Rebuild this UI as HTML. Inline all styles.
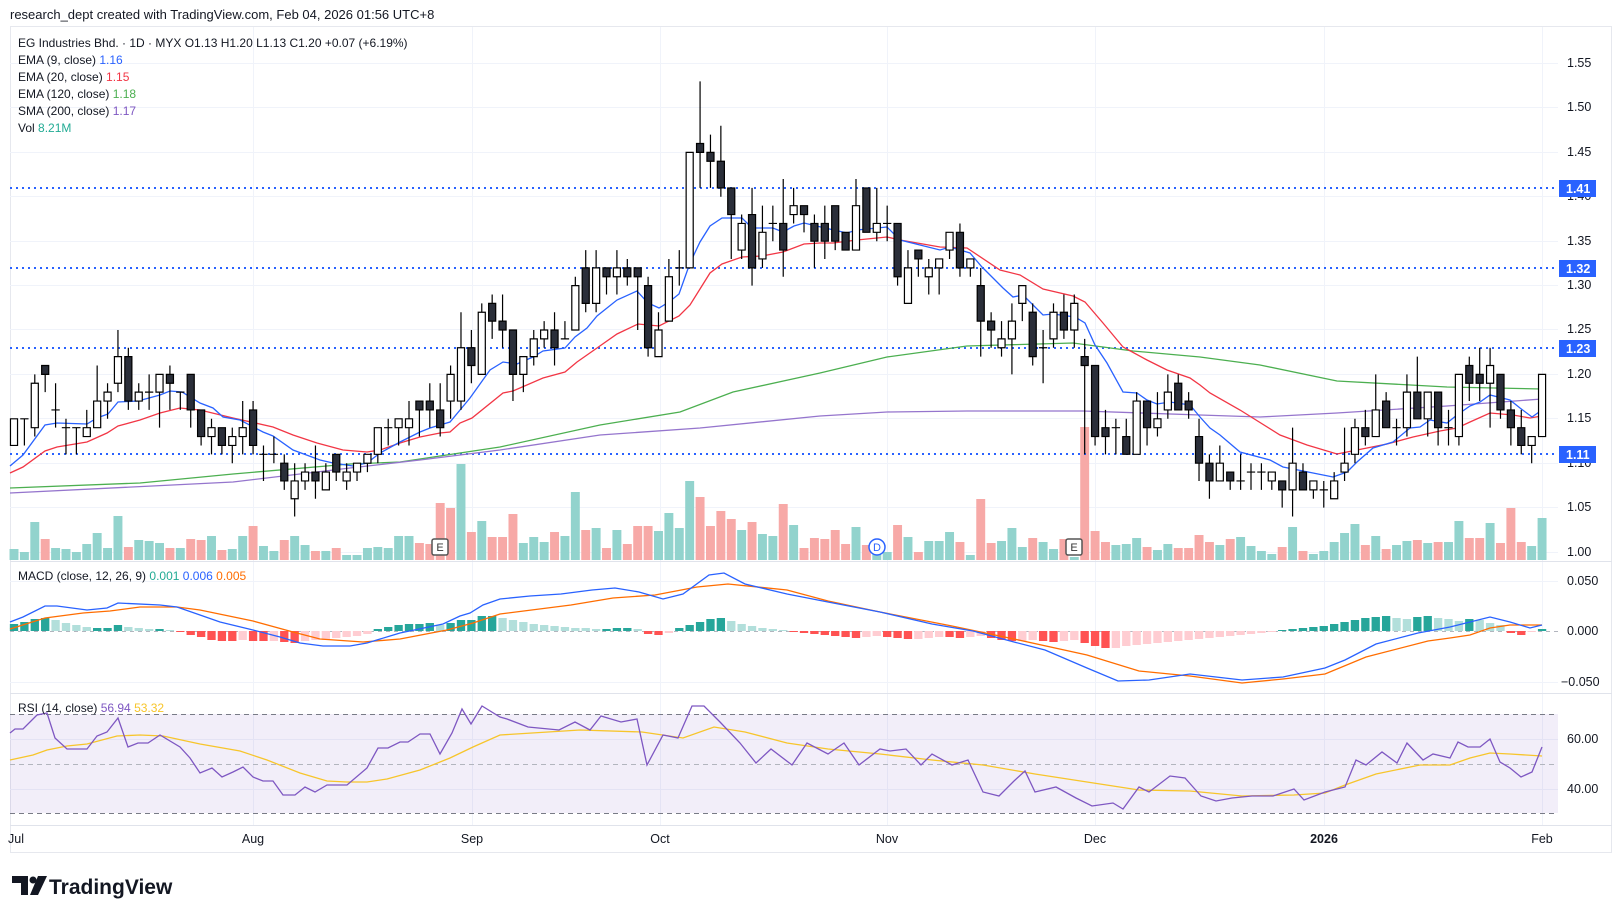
<!DOCTYPE html>
<html><head><meta charset="utf-8">
<style>
html,body{margin:0;padding:0;background:#fff;}
svg{display:block;font-family:"Liberation Sans",Arial,sans-serif;}
</style></head>
<body>
<svg width="1622" height="913" viewBox="0 0 1622 913" xmlns="http://www.w3.org/2000/svg">
<rect width="1622" height="913" fill="#fff"/>
<text x="10" y="19" font-size="13" fill="#131722">research_dept created with TradingView.com, Feb 04, 2026 01:56 UTC+8</text>
<rect x="10.5" y="26.5" width="1601" height="826" fill="none" stroke="#e6e8ee"/>
<g stroke="#f0f3fa">
<path d="M10 63.5H1558M10 107.5H1558M10 152.5H1558M10 196.5H1558M10 241.5H1558M10 285.5H1558M10 329.5H1558M10 374.5H1558M10 418.5H1558M10 463.5H1558M10 507.5H1558M10 552.5H1558M10 581.5H1558M10 682.5H1558M10 739.5H1558M10 789.5H1558"/>
<path d="M253.5 27V825M472.5 27V825M660.5 27V825M887.5 27V825M1095.5 27V825M1324.5 27V825M1542.5 27V825"/>
</g>
<path d="M10 561.5H1612M10 693.5H1612M10 825.5H1612" stroke="#e0e3eb"/>
<rect x="10" y="714" width="1548" height="99" fill="#7e57c2" fill-opacity="0.1"/>
<path d="M10 631.5H1558" stroke="#b2b5be" stroke-dasharray="4 4"/>
<path d="M10 714.5H1558M10 813.5H1558" stroke="#787b86" stroke-dasharray="5 4"/>
<path d="M10 764.5H1558" stroke="#b2b5be" stroke-dasharray="5 4"/>

<!-- volume -->
<g transform="translate(14,560) scale(10.395,-1)">
<path fill="#92d3cd" d="M-.43 0h.86v11h-.86zM.57 0h.86v8h-.86zM1.57 0h.86v38h-.86zM3.57 0h.86v12h-.86zM4.57 0h.86v11h-.86zM5.57 0h.86v8h-.86zM6.57 0h.86v16h-.86zM7.57 0h.86v27h-.86zM8.57 0h.86v12h-.86zM9.57 0h.86v44h-.86zM11.57 0h.86v20h-.86zM12.57 0h.86v19h-.86zM13.57 0h.86v17h-.86zM15.57 0h.86v12h-.86zM18.57 0h.86v24h-.86zM20.57 0h.86v11h-.86zM21.57 0h.86v24h-.86zM23.57 0h.86v14h-.86zM24.57 0h.86v9h-.86zM26.57 0h.86v24h-.86zM27.57 0h.86v15h-.86zM29.57 0h.86v9h-.86zM31.57 0h.86v5h-.86zM32.57 0h.86v5h-.86zM33.57 0h.86v12h-.86zM34.57 0h.86v13h-.86zM35.57 0h.86v12h-.86zM36.57 0h.86v24h-.86zM37.57 0h.86v24h-.86zM42.57 0h.86v96h-.86zM44.57 0h.86v39h-.86zM48.57 0h.86v17h-.86zM49.57 0h.86v23h-.86zM50.57 0h.86v18h-.86zM52.57 0h.86v24h-.86zM53.57 0h.86v68h-.86zM55.57 0h.86v32h-.86zM57.57 0h.86v30h-.86zM61.57 0h.86v29h-.86zM62.57 0h.86v47h-.86zM63.57 0h.86v32h-.86zM64.57 0h.86v79h-.86zM69.57 0h.86v30h-.86zM71.57 0h.86v26h-.86zM72.57 0h.86v24h-.86zM74.57 0h.86v35h-.86zM80.57 0h.86v33h-.86zM82.57 0h.86v10h-.86zM83.57 0h.86v8h-.86zM85.57 0h.86v23h-.86zM87.57 0h.86v19h-.86zM88.57 0h.86v19h-.86zM89.57 0h.86v28h-.86zM91.57 0h.86v5h-.86zM94.57 0h.86v19h-.86zM95.57 0h.86v32h-.86zM96.57 0h.86v13h-.86zM98.57 0h.86v18h-.86zM99.57 0h.86v11h-.86zM101.57 0h.86v3h-.86zM105.57 0h.86v15h-.86zM106.57 0h.86v16h-.86zM107.57 0h.86v22h-.86zM109.57 0h.86v10h-.86zM110.57 0h.86v16h-.86zM115.57 0h.86v15h-.86zM117.57 0h.86v23h-.86zM118.57 0h.86v14h-.86zM119.57 0h.86v9h-.86zM120.57 0h.86v6h-.86zM122.57 0h.86v33h-.86zM124.57 0h.86v6h-.86zM125.57 0h.86v9h-.86zM126.57 0h.86v18h-.86zM127.57 0h.86v27h-.86zM128.57 0h.86v36h-.86zM130.57 0h.86v24h-.86zM132.57 0h.86v15h-.86zM133.57 0h.86v19h-.86zM135.57 0h.86v17h-.86zM137.57 0h.86v18h-.86zM138.57 0h.86v39h-.86zM141.57 0h.86v37h-.86zM145.57 0h.86v14h-.86zM146.57 0h.86v42h-.86z"/>
<path fill="#f7a9a7" d="M2.57 0h.86v21h-.86zM10.57 0h.86v13h-.86zM14.57 0h.86v12h-.86zM16.57 0h.86v21h-.86zM17.57 0h.86v20h-.86zM19.57 0h.86v10h-.86zM22.57 0h.86v34h-.86zM25.57 0h.86v20h-.86zM28.57 0h.86v9h-.86zM30.57 0h.86v12h-.86zM38.57 0h.86v17h-.86zM39.57 0h.86v16h-.86zM40.57 0h.86v57h-.86zM41.57 0h.86v52h-.86zM43.57 0h.86v28h-.86zM45.57 0h.86v23h-.86zM46.57 0h.86v23h-.86zM47.57 0h.86v46h-.86zM51.57 0h.86v28h-.86zM54.57 0h.86v30h-.86zM56.57 0h.86v12h-.86zM58.57 0h.86v16h-.86zM59.57 0h.86v34h-.86zM60.57 0h.86v34h-.86zM65.57 0h.86v63h-.86zM66.57 0h.86v34h-.86zM67.57 0h.86v49h-.86zM68.57 0h.86v41h-.86zM70.57 0h.86v38h-.86zM73.57 0h.86v56h-.86zM75.57 0h.86v12h-.86zM76.57 0h.86v22h-.86zM77.57 0h.86v21h-.86zM78.57 0h.86v30h-.86zM79.57 0h.86v16h-.86zM81.57 0h.86v15h-.86zM84.57 0h.86v35h-.86zM86.57 0h.86v8h-.86zM90.57 0h.86v18h-.86zM92.57 0h.86v61h-.86zM93.57 0h.86v17h-.86zM97.57 0h.86v22h-.86zM100.57 0h.86v21h-.86zM102.57 0h.86v133h-.86zM103.57 0h.86v29h-.86zM104.57 0h.86v18h-.86zM108.57 0h.86v13h-.86zM111.57 0h.86v12h-.86zM112.57 0h.86v12h-.86zM113.57 0h.86v25h-.86zM114.57 0h.86v18h-.86zM116.57 0h.86v21h-.86zM121.57 0h.86v13h-.86zM123.57 0h.86v9h-.86zM129.57 0h.86v15h-.86zM131.57 0h.86v11h-.86zM134.57 0h.86v20h-.86zM136.57 0h.86v18h-.86zM139.57 0h.86v22h-.86zM140.57 0h.86v22h-.86zM142.57 0h.86v17h-.86zM143.57 0h.86v52h-.86zM144.57 0h.86v18h-.86z"/>
</g>

<!-- dotted levels -->
<path d="M10 188H1558M10 268H1558M10 348H1558M10 454H1558" stroke="#2962ff" stroke-width="2" stroke-dasharray="2 4"/>

<!-- long MAs -->
<g fill="none" stroke-width="1.3">
<polyline stroke="#4caf50" points="10,488 140,483 233,474 350,464 400,462 500,447 600,425 680,412 733,392 820,373 887,357 967,346 1073,343 1133,351 1200,357 1260,365 1337,381 1447,387 1542,389"/>
<polyline stroke="#9575cd" points="10,493 233,482 350,468 420,460 500,450 600,435 700,428 820,416 887,412 967,411 1083,411 1200,415 1260,417 1337,413 1447,406 1542,399"/>
<polyline stroke="#f23645" points="10,473 23,467 45,451 57,447 87,442 107,433 118,426 140,420 160,413 180,408 200,410 233,418 273,427 293,435 317,443 343,450 367,452 380,450 400,443 420,437 440,433 450,432 460,423 472,418 503,393 513,391 543,378 565,372 577,362 597,348 617,334 638,324 659,326 679,316 690,305 710,273 722,264 742,257 762,256 783,252 804,244 820,243 833,243 857,240 887,237 900,240 940,247 967,248 1000,270 1020,275 1043,289 1073,296 1085,302 1103,323 1123,347 1147,360 1167,370 1190,378 1200,385 1210,393 1240,410 1280,435 1307,445 1337,454 1367,448 1387,444 1413,437 1440,431 1457,428 1470,422 1490,413 1513,415 1530,418 1542,416"/>
<polyline stroke="#2962ff" points="10,466 23,455 45,425 57,423 87,424 97,418 108,414 118,402 138,401 160,395 170,391 182,392 200,403 213,408 223,417 240,420 263,432 273,436 293,450 320,460 333,463 353,466 367,463 380,453 400,442 420,432 430,428 450,422 470,398 490,370 503,362 517,364 533,357 543,351 565,348 575,337 587,328 597,316 617,300 637,291 648,303 659,308 669,302 679,294 690,263 700,242 710,226 722,218 742,218 752,228 773,228 783,232 794,226 804,223 825,228 847,233 857,230 877,228 887,227 900,240 920,245 940,250 950,247 970,253 982,267 1003,288 1013,297 1023,295 1043,315 1053,314 1075,317 1085,323 1095,345 1107,363 1123,392 1137,393 1147,400 1157,404 1170,402 1190,405 1200,417 1210,428 1220,435 1240,452 1270,460 1283,467 1313,473 1333,477 1347,472 1357,462 1373,448 1393,442 1410,428 1420,427 1430,420 1447,423 1457,415 1470,406 1480,402 1490,395 1510,400 1520,408 1532,417 1542,410"/>
</g>

<!-- candles -->
<g transform="translate(14,1440) scale(10.395,-8.88)" stroke="#000" stroke-width="1.2">
<path vector-effect="non-scaling-stroke" fill="none" d="M0 112V115M1 112V115M2 113V120M3 118V121M4 114V119M5 111V115M6 111V114M7 113V116M8 114V121M9 115V119M10 118V125M11 116V123M12 116V119M13 116V120M14 114V120M15 116V121M16 116V118M17 114V120M18 112V116M19 111V115M20 111V114M21 110V114M22 111V117M23 111V117M24 108V112M25 110V113M26 107V111M27 104V110M28 107V110M29 106V112M30 107V110M31 108V111M32 107V110M33 108V110M34 109V111M35 110V114M36 112V115M37 112V115M38 112V117M39 113V117M40 114V119M41 113V119M42 115V121M43 116V127M44 119V125M45 120V128M46 124V129M47 123V129M48 117V125M49 118V122M50 121V125M51 123V126M52 121V127M53 124V126M54 125V131M55 127V134M56 127V134M57 129V132M58 129V134M59 130V133M60 125V132M61 122V131M62 122V127M63 126V133M64 130V134M65 132V145M66 141V153M67 141V147M68 140V148M69 133V141M70 133V138M71 130V141M72 132V139M73 135V139M74 131V142M75 137V141M76 136V139M77 132V138M78 133V139M79 134V139M80 134V136M81 134V142M82 136V141M83 135V141M84 135V139M85 130V137M86 128V134M87 131V134M88 129V133M89 129V133M90 133V136M91 131V137M92 131V133M93 122V132M94 123V127M95 122V126M96 120V128M97 126V130M98 121V128M99 119V125M100 123V128M101 124V129M102 123V129M103 111V124M104 112V121M105 111V116M106 111V115M107 111V115M108 111V118M109 112V117M110 113V118M111 115V120M112 116V120M113 115V118M114 108V115M115 106V111M116 108V112M117 107V109M118 107V111M119 107V110M120 107V110M121 107V109M122 105V108M123 104V114M124 107V110M125 106V108M126 105V108M127 106V109M128 108V114M129 110V115M130 112V116M131 113V120M132 114V118M133 112V115M134 113V120M135 115V122M136 113V118M137 112V118M138 112V116M139 112V120M140 117V122M141 117V123M142 114V123M143 115V120M144 112V117M145 111V116M146 110V113M147 113V120M.6 115h.8M3.6 116h.8M4.6 114h.8M5.6 114h.8M12.6 118h.8M15.6 118h.8M23.6 111h.8M24.6 111h.8M35.6 114h.8M52.6 124h.8M63.6 132h.8M72.6 137h.8M83.6 137h.8M98.6 123h.8M105.6 114h.8M117.6 108h.8M118.6 109h.8M119.6 109h.8M125.6 107h.8M132.6 114h.8M137.6 114h.8"/>
<path vector-effect="non-scaling-stroke" fill="#fff" d="M-.34 112h.68V115h-.68zM1.66 114h.68V119h-.68zM6.66 113h.68V114h-.68zM7.66 114h.68V117h-.68zM8.66 117h.68V118h-.68zM9.66 119h.68V122h-.68zM11.66 117h.68V118h-.68zM13.66 118h.68V120h-.68zM18.66 113h.68V114h-.68zM20.66 112h.68V113h-.68zM21.66 113h.68V114h-.68zM26.66 106h.68V108h-.68zM27.66 108h.68V109h-.68zM29.66 107h.68V109h-.68zM31.66 108h.68V109h-.68zM32.66 109h.68V110h-.68zM33.66 110h.68V111h-.68zM34.66 111h.68V114h-.68zM36.66 114h.68V115h-.68zM37.66 114h.68V115h-.68zM41.66 117h.68V120h-.68zM42.66 117h.68V123h-.68zM44.66 120h.68V127h-.68zM48.66 120h.68V122h-.68zM49.66 122h.68V124h-.68zM50.66 124h.68V125h-.68zM53.66 125h.68V130h-.68zM55.66 128h.68V132h-.68zM57.66 131h.68V132h-.68zM61.66 122h.68V125h-.68zM62.66 126h.68V131h-.68zM64.66 132h.68V145h-.68zM69.66 134h.68V137h-.68zM71.66 133h.68V136h-.68zM74.66 138h.68V139h-.68zM80.66 134h.68V139h-.68zM82.66 136h.68V137h-.68zM85.66 128h.68V132h-.68zM87.66 131h.68V132h-.68zM88.66 132h.68V133h-.68zM89.66 134h.68V136h-.68zM91.66 132h.68V133h-.68zM94.66 123h.68V124h-.68zM95.66 124h.68V126h-.68zM96.66 128h.68V130h-.68zM99.66 124h.68V127h-.68zM101.66 125h.68V128h-.68zM107.66 111h.68V117h-.68zM109.66 114h.68V115h-.68zM110.66 116h.68V118h-.68zM115.66 108h.68V110h-.68zM120.66 108h.68V109h-.68zM122.66 107h.68V110h-.68zM124.66 107h.68V108h-.68zM126.66 106h.68V108h-.68zM127.66 109h.68V110h-.68zM128.66 111h.68V114h-.68zM130.66 113h.68V116h-.68zM133.66 114h.68V118h-.68zM135.66 115h.68V118h-.68zM138.66 113h.68V120h-.68zM141.66 119h.68V121h-.68zM145.66 112h.68V113h-.68zM146.66 113h.68V120h-.68z"/>
<path vector-effect="non-scaling-stroke" fill="#2a2e39" d="M2.66 120h.68V121h-.68zM10.66 117h.68V122h-.68zM14.66 119h.68V120h-.68zM16.66 116h.68V120h-.68zM17.66 113h.68V116h-.68zM19.66 112h.68V114h-.68zM22.66 112h.68V116h-.68zM25.66 108h.68V110h-.68zM28.66 108h.68V109h-.68zM30.66 109h.68V111h-.68zM38.66 116h.68V117h-.68zM39.66 116h.68V117h-.68zM40.66 114h.68V116h-.68zM43.66 121h.68V123h-.68zM45.66 126h.68V128h-.68zM46.66 125h.68V126h-.68zM47.66 120h.68V125h-.68zM51.66 123h.68V125h-.68zM54.66 128h.68V132h-.68zM56.66 131h.68V132h-.68zM58.66 131h.68V132h-.68zM59.66 131h.68V132h-.68zM60.66 123h.68V130h-.68zM65.66 145h.68V146h-.68zM66.66 144h.68V145h-.68zM67.66 141h.68V144h-.68zM68.66 138h.68V141h-.68zM70.66 132h.68V138h-.68zM73.66 134h.68V137h-.68zM75.66 138h.68V139h-.68zM76.66 135h.68V137h-.68zM77.66 135h.68V137h-.68zM78.66 135h.68V139h-.68zM79.66 134h.68V136h-.68zM81.66 136h.68V141h-.68zM84.66 131h.68V137h-.68zM86.66 133h.68V134h-.68zM90.66 132h.68V136h-.68zM92.66 126h.68V130h-.68zM93.66 125h.68V126h-.68zM97.66 122h.68V127h-.68zM100.66 125h.68V127h-.68zM102.66 121h.68V122h-.68zM103.66 113h.68V121h-.68zM104.66 113h.68V114h-.68zM106.66 111h.68V113h-.68zM108.66 114h.68V117h-.68zM111.66 116h.68V119h-.68zM112.66 116h.68V117h-.68zM113.66 110h.68V113h-.68zM114.66 108h.68V110h-.68zM116.66 108h.68V109h-.68zM121.66 107h.68V108h-.68zM123.66 107h.68V109h-.68zM129.66 113h.68V114h-.68zM131.66 114h.68V117h-.68zM134.66 115h.68V118h-.68zM136.66 114h.68V118h-.68zM139.66 119h.68V121h-.68zM140.66 119h.68V120h-.68zM142.66 116h.68V120h-.68zM143.66 114h.68V116h-.68zM144.66 112h.68V114h-.68z"/>
</g>

<!-- MACD histogram -->
<g transform="translate(14,631) scale(10.395,-1)">
<path fill="#26a69a" d="M-.4 0h.8v7h-.8zM.6 0h.8v9h-.8zM1.6 0h.8v12h-.8zM2.6 0h.8v13h-.8zM7.6 0h.8v3h-.8zM8.6 0h.8v3h-.8zM9.6 0h.8v6h-.8zM13.6 0h.8v2h-.8zM34.6 0h.8v2h-.8zM35.6 0h.8v4h-.8zM36.6 0h.8v6h-.8zM37.6 0h.8v7h-.8zM38.6 0h.8v7h-.8zM39.6 0h.8v8h-.8zM41.6 0h.8v8h-.8zM42.6 0h.8v11h-.8zM43.6 0h.8v11h-.8zM44.6 0h.8v15h-.8zM45.6 0h.8v15h-.8zM56.6 0h.8v2h-.8zM57.6 0h.8v3h-.8zM58.6 0h.8v3h-.8zM63.6 0h.8v3h-.8zM64.6 0h.8v6h-.8zM65.6 0h.8v9h-.8zM66.6 0h.8v12h-.8zM67.6 0h.8v13h-.8zM121.6 0h.8v1h-.8zM122.6 0h.8v2h-.8zM123.6 0h.8v3h-.8zM124.6 0h.8v4h-.8zM125.6 0h.8v5h-.8zM126.6 0h.8v7h-.8zM127.6 0h.8v9h-.8zM128.6 0h.8v11h-.8zM129.6 0h.8v13h-.8zM130.6 0h.8v14h-.8zM131.6 0h.8v15h-.8zM134.6 0h.8v14h-.8zM135.6 0h.8v15h-.8zM139.6 0h.8v12h-.8zM146.6 0h.8v2h-.8z"/>
<path fill="#b2dfdb" d="M3.6 0h.8v11h-.8zM4.6 0h.8v8h-.8zM5.6 0h.8v6h-.8zM6.6 0h.8v4h-.8zM10.6 0h.8v4h-.8zM11.6 0h.8v3h-.8zM12.6 0h.8v2h-.8zM14.6 0h.8v1h-.8zM40.6 0h.8v6h-.8zM46.6 0h.8v13h-.8zM47.6 0h.8v11h-.8zM48.6 0h.8v9h-.8zM49.6 0h.8v7h-.8zM50.6 0h.8v6h-.8zM51.6 0h.8v5h-.8zM52.6 0h.8v4h-.8zM53.6 0h.8v3h-.8zM54.6 0h.8v3h-.8zM55.6 0h.8v2h-.8zM59.6 0h.8v2h-.8zM68.6 0h.8v10h-.8zM69.6 0h.8v7h-.8zM70.6 0h.8v5h-.8zM71.6 0h.8v3h-.8zM72.6 0h.8v2h-.8zM73.6 0h.8v1h-.8zM132.6 0h.8v13h-.8zM133.6 0h.8v12h-.8zM136.6 0h.8v13h-.8zM137.6 0h.8v12h-.8zM138.6 0h.8v10h-.8zM140.6 0h.8v11h-.8zM141.6 0h.8v8h-.8zM142.6 0h.8v6h-.8z"/>
<path fill="#ff5252" d="M15.6 0h.8v-1h-.8zM16.6 0h.8v-4h-.8zM17.6 0h.8v-6h-.8zM18.6 0h.8v-9h-.8zM19.6 0h.8v-10h-.8zM20.6 0h.8v-10h-.8zM22.6 0h.8v-10h-.8zM23.6 0h.8v-10h-.8zM25.6 0h.8v-11h-.8zM26.6 0h.8v-12h-.8zM60.6 0h.8v-3h-.8zM61.6 0h.8v-4h-.8zM74.6 0h.8v-1h-.8zM75.6 0h.8v-2h-.8zM76.6 0h.8v-3h-.8zM77.6 0h.8v-4h-.8zM78.6 0h.8v-5h-.8zM79.6 0h.8v-6h-.8zM80.6 0h.8v-7h-.8zM83.6 0h.8v-6h-.8zM84.6 0h.8v-7h-.8zM85.6 0h.8v-8h-.8zM89.6 0h.8v-6h-.8zM90.6 0h.8v-7h-.8zM93.6 0h.8v-7h-.8zM94.6 0h.8v-9h-.8zM95.6 0h.8v-10h-.8zM98.6 0h.8v-10h-.8zM99.6 0h.8v-11h-.8zM102.6 0h.8v-12h-.8zM103.6 0h.8v-15h-.8zM104.6 0h.8v-17h-.8zM143.6 0h.8v-2h-.8zM144.6 0h.8v-4h-.8z"/>
<path fill="#ffcdd2" d="M21.6 0h.8v-9h-.8zM24.6 0h.8v-10h-.8zM27.6 0h.8v-10h-.8zM28.6 0h.8v-9h-.8zM29.6 0h.8v-9h-.8zM30.6 0h.8v-7h-.8zM31.6 0h.8v-6h-.8zM32.6 0h.8v-5h-.8zM33.6 0h.8v-3h-.8zM62.6 0h.8v-2h-.8zM81.6 0h.8v-6h-.8zM82.6 0h.8v-5h-.8zM86.6 0h.8v-8h-.8zM87.6 0h.8v-7h-.8zM88.6 0h.8v-6h-.8zM91.6 0h.8v-6h-.8zM92.6 0h.8v-5h-.8zM96.6 0h.8v-10h-.8zM97.6 0h.8v-9h-.8zM100.6 0h.8v-10h-.8zM101.6 0h.8v-9h-.8zM105.6 0h.8v-17h-.8zM106.6 0h.8v-15h-.8zM107.6 0h.8v-14h-.8zM108.6 0h.8v-13h-.8zM109.6 0h.8v-12h-.8zM110.6 0h.8v-11h-.8zM111.6 0h.8v-10h-.8zM112.6 0h.8v-9h-.8zM113.6 0h.8v-8h-.8zM114.6 0h.8v-7h-.8zM115.6 0h.8v-6h-.8zM116.6 0h.8v-5h-.8zM117.6 0h.8v-4h-.8zM118.6 0h.8v-3h-.8zM119.6 0h.8v-2h-.8zM120.6 0h.8v-1h-.8zM145.6 0h.8v-1h-.8z"/>
</g>

<!-- MACD lines -->
<g fill="none" stroke-width="1.3">
<polyline stroke="#ff6d00" points="10,629 45,618 83,613 110,611 140,607 177,607 200,610 253,621 293,632 320,639 363,642 400,639 447,630 473,623 500,614 571,605 613,598 655,595 697,587 728,584 787,590 828,601 880,612 952,626 1014,639 1087,655 1139,671 1190,676 1242,683 1283,679 1325,674 1366,657 1428,641 1450,638 1470,635 1490,628 1510,625 1542,625"/>
<polyline stroke="#2962ff" points="10,622 23,617 45,606 57,606 87,610 107,608 118,603 160,605 177,607 200,615 220,622 253,630 280,637 300,643 323,646 350,646 367,643 400,633 443,624 460,616 470,613 483,605 500,599 530,596 561,594 592,590 615,588 639,592 663,599 683,594 709,575 724,573 745,584 787,594 828,602 880,612 932,624 973,631 1014,642 1045,650 1087,668 1118,681 1149,680 1190,674 1242,680 1283,677 1325,668 1345,660 1376,644 1418,633 1450,627 1470,622 1490,617 1510,622 1530,628 1542,625"/>
</g>

<!-- RSI lines -->
<g fill="none" stroke-width="1.3">
<polyline stroke="#f7c52b" points="10,760 33,755 47,750 67,746 87,744 117,736 140,735 163,736 200,744 240,751 267,760 300,773 327,781 347,782 367,782 387,779 420,770 450,758 473,747 500,735 580,730 642,732 683,738 714,727 745,732 787,743 828,749 880,754 932,760 983,765 1035,774 1087,782 1139,790 1190,791 1242,796 1294,795 1325,793 1345,785 1376,774 1420,765 1450,765 1470,758 1490,753 1510,754 1542,756"/>
<polyline stroke="#7e57c2" points="10,733 15,729 23,729 37,715 47,713 55,738 67,749 87,749 97,736 107,732 118,718 128,747 138,743 148,743 160,735 180,747 190,758 200,773 212,768 222,777 233,772 243,767 253,777 263,781 273,781 283,795 295,795 305,787 315,792 327,785 347,785 367,768 378,748 388,748 400,742 408,742 420,734 430,734 440,754 452,733 462,709 471,724 482,706 500,717 507,719 528,727 559,730 575,722 590,730 601,716 621,722 637,719 647,765 663,735 678,738 692,706 704,706 720,722 740,743 756,763 771,749 792,765 807,743 828,754 844,743 859,765 880,749 890,751 906,749 921,765 932,754 952,765 968,760 983,792 999,796 1014,781 1025,771 1035,792 1056,787 1076,798 1092,806 1113,803 1123,809 1139,787 1149,792 1170,776 1185,778 1201,796 1216,801 1232,798 1252,796 1273,796 1294,789 1304,800 1325,792 1345,787 1356,760 1366,765 1382,752 1397,763 1407,743 1423,760 1433,754 1450,758 1458,742 1468,747 1480,747 1490,739 1500,762 1510,768 1521,777 1532,772 1542,747"/>
</g>

<!-- legends -->
<g font-size="12" fill="#131722">
<text x="18" y="47">EG Industries Bhd. · 1D · MYX  O1.13  H1.20  L1.13  C1.20  +0.07 (+6.19%)</text>
<text x="18" y="64">EMA (9, close) <tspan fill="#2962ff">1.16</tspan></text>
<text x="18" y="81">EMA (20, close) <tspan fill="#f23645">1.15</tspan></text>
<text x="18" y="98">EMA (120, close) <tspan fill="#4caf50">1.18</tspan></text>
<text x="18" y="115">SMA (200, close) <tspan fill="#7e57c2">1.17</tspan></text>
<text x="18" y="132">Vol <tspan fill="#22ab94">8.21M</tspan></text>
<text x="18" y="580">MACD (close, 12, 26, 9) <tspan fill="#22ab94">0.001</tspan> <tspan fill="#2962ff">0.006</tspan> <tspan fill="#ff6d00">0.005</tspan></text>
<text x="18" y="712">RSI (14, close) <tspan fill="#7e57c2">56.94</tspan> <tspan fill="#f7c52b">53.32</tspan></text>
</g>
<!-- price axis -->
<g font-size="12.5" fill="#131722">
<text x="1567" y="67">1.55</text>
<text x="1567" y="111">1.50</text>
<text x="1567" y="156">1.45</text>
<text x="1567" y="200">1.40</text>
<text x="1567" y="245">1.35</text>
<text x="1567" y="289">1.30</text>
<text x="1567" y="333">1.25</text>
<text x="1567" y="378">1.20</text>
<text x="1567" y="422">1.15</text>
<text x="1567" y="467">1.10</text>
<text x="1567" y="511">1.05</text>
<text x="1567" y="556">1.00</text>
<text x="1567" y="585">0.050</text>
<text x="1567" y="635">0.000</text>
<text x="1561" y="686">−0.050</text>
<text x="1567" y="743">60.00</text>
<text x="1567" y="793">40.00</text>
</g>
<g font-size="12.5" fill="#fff" font-weight="bold">
<rect x="1559" y="180" width="37" height="17" fill="#2962ff"/><text x="1566" y="193">1.41</text>
<rect x="1559" y="260" width="37" height="17" fill="#2962ff"/><text x="1566" y="273">1.32</text>
<rect x="1559" y="340" width="37" height="17" fill="#2962ff"/><text x="1566" y="353">1.23</text>
<rect x="1559" y="446" width="37" height="17" fill="#2962ff"/><text x="1566" y="459">1.11</text>
</g>
<!-- time axis -->
<g font-size="12.5" fill="#131722" text-anchor="middle">
<text x="16" y="843">Jul</text>
<text x="253" y="843">Aug</text>
<text x="472" y="843">Sep</text>
<text x="660" y="843">Oct</text>
<text x="887" y="843">Nov</text>
<text x="1095" y="843">Dec</text>
<text x="1324" y="843" font-weight="bold">2026</text>
<text x="1542" y="843">Feb</text>
</g>
<!-- markers -->
<g font-size="11" text-anchor="middle">
<rect x="432" y="539" width="16" height="16" rx="2" fill="#fff" stroke="#555" stroke-width="1.5"/><text x="440" y="551" fill="#333">E</text>
<circle cx="877" cy="547" r="8" fill="#fff" stroke="#2962ff" stroke-width="1.5"/><text x="877" y="551" fill="#2962ff">D</text>
<rect x="1066" y="539" width="16" height="16" rx="2" fill="#fff" stroke="#555" stroke-width="1.5"/><text x="1074" y="551" fill="#333">E</text>
</g>
<!-- logo -->
<g fill="#131722">
<path d="M12 876 h16 v19 h-7 v-12 h-9 z"/>
<circle cx="33" cy="880" r="3.5"/>
<path d="M38 876 h9 l-9 19 h-8 z"/>
<text x="49" y="894" font-size="21" font-weight="bold">TradingView</text>
</g>
</svg>
</body></html>
